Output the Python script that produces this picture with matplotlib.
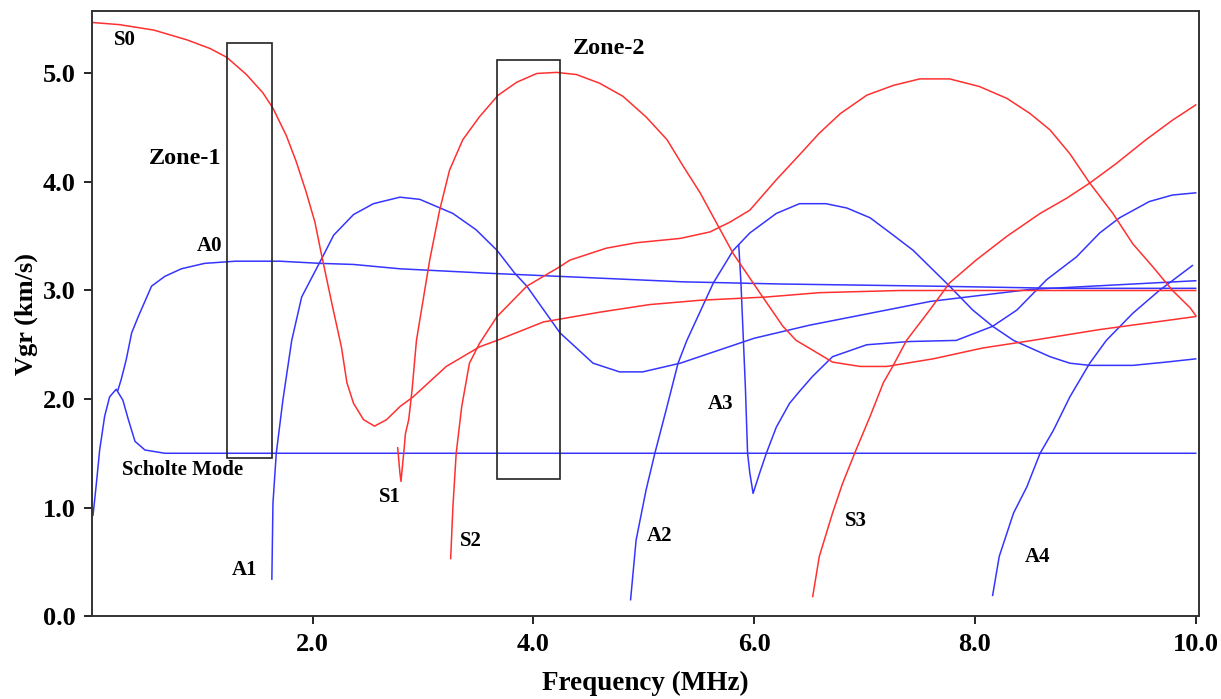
import matplotlib
matplotlib.use("Agg")
import matplotlib.pyplot as plt
from matplotlib.patches import Rectangle

# group velocity dispersion curves (frequency in MHz, Vgr in km/s)
scholte_f = [0.01, 0.04, 0.07, 0.115, 0.16, 0.22, 0.28, 0.33, 0.39, 0.48, 0.66, 10.0]
scholte_v = [0.93, 1.22, 1.53, 1.84, 2.02, 2.09, 1.99, 1.81, 1.61, 1.53, 1.50, 1.50]

a0_f = [0.235, 0.265, 0.31, 0.36, 0.42, 0.54, 0.66, 0.81, 1.02, 1.3, 1.70, 2.07, 2.37,
        2.79, 3.57, 4.24, 5.35, 6.23, 7.62, 8.77, 10.0]
a0_v = [2.08, 2.18, 2.36, 2.61, 2.76, 3.04, 3.13, 3.20, 3.25, 3.27, 3.27, 3.25, 3.24,
        3.20, 3.16, 3.13, 3.08, 3.06, 3.04, 3.02, 3.02]

a1_f = [1.63, 1.64, 1.67, 1.73, 1.81, 1.90, 2.10, 2.19, 2.37, 2.55, 2.79, 2.97, 3.27, 3.48,
        3.67, 3.83, 3.94, 4.24, 4.54, 4.78, 4.99, 5.33, 6.0, 6.5, 7.6, 8.5, 10.0]
a1_v = [0.34, 1.04, 1.50, 1.99, 2.54, 2.94, 3.33, 3.51, 3.70, 3.80, 3.86, 3.84, 3.71, 3.56,
        3.37, 3.16, 3.04, 2.61, 2.33, 2.25, 2.25, 2.33, 2.56, 2.68, 2.90, 3.01, 3.09]

a2_f = [4.88, 4.93, 5.02, 5.10, 5.21, 5.31, 5.39, 5.63, 5.81, 5.96, 6.20, 6.41, 6.65, 6.84,
        7.05, 7.26, 7.44, 7.62, 7.77, 7.98, 8.16, 8.35, 8.68, 8.86, 9.04, 9.43, 9.73, 10.0]
a2_v = [0.15, 0.70, 1.16, 1.50, 1.93, 2.33, 2.54, 3.07, 3.37, 3.53, 3.71, 3.80, 3.80, 3.76,
        3.67, 3.51, 3.37, 3.19, 3.04, 2.82, 2.67, 2.54, 2.39, 2.33, 2.31, 2.31, 2.34, 2.37]

a3_f = [5.86, 5.88, 5.92, 5.94, 5.96, 5.99, 6.05, 6.11, 6.20, 6.32, 6.41, 6.53, 6.71, 7.02,
        7.41, 7.83, 8.16, 8.38, 8.65, 8.92, 9.13, 9.31, 9.58, 9.79, 10.0]
a3_v = [3.42, 3.07, 2.11, 1.50, 1.32, 1.13, 1.32, 1.50, 1.74, 1.96, 2.07, 2.21, 2.39, 2.50,
        2.53, 2.54, 2.67, 2.82, 3.10, 3.31, 3.53, 3.67, 3.82, 3.88, 3.90]

a4_f = [8.16, 8.22, 8.35, 8.47, 8.59, 8.71, 8.86, 9.04, 9.19, 9.43, 9.67, 9.97]
a4_v = [0.19, 0.55, 0.95, 1.19, 1.50, 1.71, 2.02, 2.33, 2.54, 2.79, 3.00, 3.23]

s0_f = [0.0, 0.25, 0.56, 0.86, 1.07, 1.22, 1.40, 1.55, 1.64, 1.76, 1.85, 1.94, 2.02, 2.08,
        2.18, 2.26, 2.31, 2.37, 2.46, 2.56, 2.67, 2.79, 2.91, 3.21, 3.51, 3.67, 4.09, 4.6,
        5.05, 5.51, 6.11, 6.59, 7.32, 10.0]
s0_v = [5.47, 5.45, 5.40, 5.31, 5.23, 5.15, 4.99, 4.82, 4.68, 4.43, 4.19, 3.91, 3.63, 3.33,
        2.85, 2.48, 2.15, 1.96, 1.81, 1.75, 1.81, 1.93, 2.02, 2.30, 2.48, 2.54, 2.71, 2.80,
        2.87, 2.91, 2.94, 2.98, 3.00, 3.00]

s1_f = [2.77, 2.79, 2.80, 2.81, 2.83, 2.84, 2.87, 2.90, 2.94, 3.06, 3.15, 3.24, 3.36, 3.51,
        3.68, 3.85, 4.03, 4.21, 4.39, 4.60, 4.81, 5.02, 5.21, 5.36, 5.51, 5.66, 5.81, 6.05,
        6.26, 6.38, 6.53, 6.71, 6.96, 7.20, 7.62, 8.07, 8.52, 9.13, 10.0]
s1_v = [1.55, 1.32, 1.24, 1.35, 1.56, 1.68, 1.81, 2.08, 2.54, 3.28, 3.74, 4.11, 4.39, 4.60,
        4.80, 4.92, 5.00, 5.01, 4.99, 4.91, 4.79, 4.60, 4.39, 4.14, 3.90, 3.62, 3.34, 2.98,
        2.67, 2.54, 2.45, 2.34, 2.30, 2.30, 2.37, 2.47, 2.54, 2.64, 2.76]

s2_f = [3.25, 3.27, 3.30, 3.35, 3.42, 3.51, 3.67, 3.94, 4.24, 4.33, 4.66, 4.93, 5.33, 5.60,
        5.78, 5.96, 6.20, 6.41, 6.59, 6.78, 7.02, 7.26, 7.50, 7.77, 8.04, 8.29, 8.50, 8.68,
        8.86, 9.04, 9.25, 9.43, 9.61, 9.79, 9.95, 10.0]
s2_v = [0.53, 1.00, 1.50, 1.93, 2.33, 2.51, 2.76, 3.04, 3.22, 3.28, 3.39, 3.44, 3.48, 3.54,
        3.63, 3.74, 4.02, 4.25, 4.45, 4.63, 4.80, 4.89, 4.95, 4.95, 4.88, 4.77, 4.63, 4.48,
        4.26, 3.99, 3.71, 3.43, 3.22, 3.00, 2.84, 2.77]

s3_f = [6.53, 6.59, 6.71, 6.80, 6.91, 7.05, 7.17, 7.26, 7.38, 7.59, 7.77, 8.01, 8.29, 8.59,
        8.83, 9.04, 9.28, 9.55, 9.79, 10.0]
s3_v = [0.18, 0.55, 0.95, 1.22, 1.50, 1.84, 2.15, 2.31, 2.54, 2.82, 3.07, 3.28, 3.50, 3.71,
        3.85, 3.99, 4.17, 4.39, 4.57, 4.71]

# zone boxes: (f_min, f_max, v_min, v_max)
zone_names = ["Zone-1", "Zone-2"]
zone_boxes = [(1.225, 1.628, 1.46, 5.28), (3.67, 4.24, 1.26, 5.12)]
zone_text_pos = [(0.84, 4.22), (4.69, 5.23)]

# mode labels
mode_names = ["S0", "A0", "Scholte Mode", "A1", "S1", "S2", "A2", "A3", "S3", "A4"]
mode_text_pos = [(0.30, 5.31), (1.07, 3.41), (0.82, 1.35), (1.38, 0.42), (2.70, 1.10),
                 (3.43, 0.69), (5.14, 0.74), (5.70, 1.95), (6.92, 0.88), (8.57, 0.54)]

xticks = [2, 4, 6, 8, 10]
yticks = [0, 1, 2, 3, 4, 5]

RED = "#ff3030"
BLUE = "#3535ff"

plt.rcParams["font.family"] = ["Liberation Serif", "DejaVu Serif"]

fig = plt.figure(figsize=(12.21, 6.99), dpi=100)
ax = fig.add_axes([0.0753, 0.1187, 0.9067, 0.8656])

blue_modes = [(scholte_f, scholte_v), (a0_f, a0_v), (a1_f, a1_v), (a2_f, a2_v),
              (a3_f, a3_v), (a4_f, a4_v)]
red_modes = [(s0_f, s0_v), (s1_f, s1_v), (s2_f, s2_v), (s3_f, s3_v)]

for f, v in blue_modes:
    ax.plot(f, v, color=BLUE, lw=1.1)
for f, v in red_modes:
    ax.plot(f, v, color=RED, lw=1.1)

for (f0, f1, v0, v1) in zone_boxes:
    ax.add_patch(Rectangle((f0, v0), f1 - f0, v1 - v0, fill=False,
                           edgecolor="#222222", lw=1.2, zorder=3))

for name, (x, y) in zip(zone_names, zone_text_pos):
    ax.text(x, y, name, fontsize=17.5, fontweight="bold", ha="center", va="center")

for name, (x, y) in zip(mode_names, mode_text_pos):
    ax.text(x, y, name, fontsize=15, fontweight="bold", ha="center", va="center")

ax.set_xlim(0, 10.03)
ax.set_ylim(0, 5.576)
ax.set_xticks(xticks)
ax.set_xticklabels([f"{t:.1f}" for t in xticks])
ax.set_yticks(yticks)
ax.set_yticklabels([f"{t:.1f}" for t in yticks])
ax.tick_params(direction="out", length=6, width=1.2, labelsize=19, pad=6)
for lab in ax.get_xticklabels() + ax.get_yticklabels():
    lab.set_fontweight("bold")

for sp in ax.spines.values():
    sp.set_linewidth(1.4)
    sp.set_color("#333333")

ax.set_xlabel("Frequency (MHz)", fontsize=19.5, fontweight="bold", labelpad=11)
ax.set_ylabel("Vgr (km/s)", fontsize=19, fontweight="bold", labelpad=3)

fig.savefig("out.png", dpi=100)
